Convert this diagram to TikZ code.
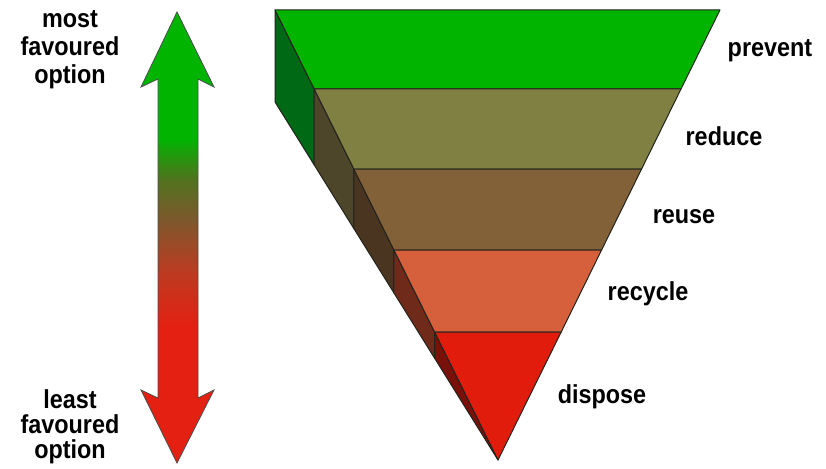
\documentclass[tikz,border=0pt]{standalone}
\usepackage{fontspec}
\usepackage{graphicx}
\setmainfont{Liberation Sans}
\definecolor{gTop}{RGB}{0,180,0}
\definecolor{gSide}{RGB}{0,105,22}
\definecolor{oTop}{RGB}{128,128,66}
\definecolor{oSide}{RGB}{78,70,42}
\definecolor{bTop}{RGB}{130,96,56}
\definecolor{bSide}{RGB}{74,54,32}
\definecolor{sTop}{RGB}{214,96,60}
\definecolor{sSide}{RGB}{112,42,26}
\definecolor{rTop}{RGB}{226,28,12}
\definecolor{rSide}{RGB}{122,16,10}
\definecolor{edge}{RGB}{35,35,30}
\definecolor{arG}{RGB}{0,180,0}
\definecolor{arGB}{RGB}{80,115,30}
\definecolor{arB}{RGB}{125,88,45}
\definecolor{arRB}{RGB}{190,58,32}
\definecolor{arR}{RGB}{228,32,18}
\pgfdeclareverticalshading{arrshade}{100bp}{color(0bp)=(arR); color(40bp)=(arR); color(46bp)=(arRB); color(52bp)=(arB); color(56.5bp)=(arGB); color(61bp)=(arG); color(100bp)=(arG)}
\newcommand\sq[1]{\scalebox{0.9}[1]{#1}}
\begin{document}
\begin{tikzpicture}[x=1pt,y=-1pt,
  lbl/.style={font=\fontsize{26}{28}\selectfont\bfseries, inner sep=0pt, anchor=base},
  face/.style={draw=edge, line width=1pt, line join=round}]
\useasboundingbox (0,0) rectangle (826,468);
% arrow
\path[draw=black!70, line width=0.8pt, shading=arrshade, line join=miter]
  (177,12) -- (214,87) -- (198,79) -- (198,398) -- (214,390) -- (177,463)
  -- (141,390) -- (158,398) -- (158,79) -- (141,87) -- cycle;
% key points of the pyramid
\coordinate (L0) at (275,10);   \coordinate (R0) at (720,10);
\coordinate (L1) at (314.2,89); \coordinate (R1) at (681,89);
\coordinate (L2) at (353.8,169);\coordinate (R2) at (641.6,169);
\coordinate (L3) at (393.9,250);\coordinate (R3) at (601.6,250);
\coordinate (L4) at (434.6,332);\coordinate (R4) at (561.2,332);
\coordinate (A) at (498,460);
\coordinate (S0) at (275,102);
\coordinate (S1) at (314.2,164.9);
\coordinate (S2) at (353.8,228.5);
\coordinate (S3) at (393.9,292.9);
\coordinate (S4) at (434.6,358.2);
% side faces
\draw[face, fill=gSide] (L0) -- (L1) -- (S1) -- (S0) -- cycle;
\draw[face, fill=oSide] (L1) -- (L2) -- (S2) -- (S1) -- cycle;
\draw[face, fill=bSide] (L2) -- (L3) -- (S3) -- (S2) -- cycle;
\draw[face, fill=sSide] (L3) -- (L4) -- (S4) -- (S3) -- cycle;
\draw[face, fill=rSide] (L4) -- (A) -- (S4) -- cycle;
% top faces
\draw[face, fill=gTop] (L0) -- (R0) -- (R1) -- (L1) -- cycle;
\draw[face, fill=oTop] (L1) -- (R1) -- (R2) -- (L2) -- cycle;
\draw[face, fill=bTop] (L2) -- (R2) -- (R3) -- (L3) -- cycle;
\draw[face, fill=sTop] (L3) -- (R3) -- (R4) -- (L4) -- cycle;
\draw[face, fill=rTop] (L4) -- (R4) -- (A) -- cycle;
% labels
\node[lbl] (tprev) at (770,57) {\sq{prevent}};
\node[lbl] (tred) at (724,145) {\sq{reduce}};
\node[lbl] (treu) at (684,223) {\sq{reuse}};
\node[lbl] (trec) at (648,300) {\sq{recycle}};
\node[lbl] (tdis) at (602,403) {\sq{dispose}};
\node[lbl] (m1) at (70,28) {\sq{most}};
\node[lbl] (m2) at (70,56) {\sq{favoured}};
\node[lbl] (m3) at (70,84) {\sq{option}};
\node[lbl] (l1) at (70,408) {\sq{least}};
\node[lbl] (l2) at (70,433) {\sq{favoured}};
\node[lbl] (l3) at (70,458) {\sq{option}};
\end{tikzpicture}
\end{document}
